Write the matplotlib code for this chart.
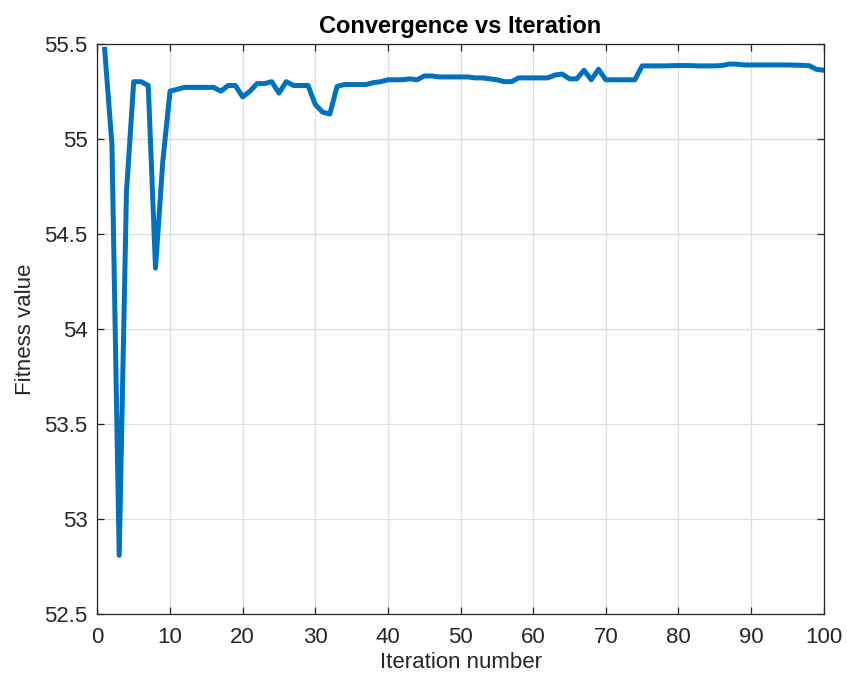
import matplotlib
matplotlib.use("Agg")
import matplotlib.pyplot as plt
import numpy as np

plt.rcParams['font.family'] = ['Liberation Sans', 'DejaVu Sans']

iterations = list(range(1, 101))
fitness = [
    55.47, 54.97, 52.81, 54.72, 55.30, 55.30, 55.28, 54.32, 54.88, 55.25,
    55.26, 55.27, 55.27, 55.27, 55.27, 55.27, 55.25, 55.28, 55.28, 55.22,
    55.25, 55.29, 55.29, 55.30, 55.24, 55.30, 55.28, 55.28, 55.28, 55.18,
    55.14, 55.13, 55.275, 55.285, 55.285, 55.285, 55.285, 55.295, 55.30, 55.31,
    55.31, 55.31, 55.315, 55.31, 55.33, 55.33, 55.325, 55.325, 55.325, 55.325,
    55.325, 55.32, 55.32, 55.315, 55.31, 55.30, 55.30, 55.32, 55.32, 55.32,
    55.32, 55.32, 55.335, 55.34, 55.315, 55.315, 55.36, 55.31, 55.365, 55.31,
    55.31, 55.31, 55.31, 55.31, 55.383, 55.383, 55.383, 55.383, 55.384, 55.385,
    55.385, 55.384, 55.383, 55.383, 55.383, 55.385, 55.393, 55.392, 55.388, 55.388,
    55.388, 55.388, 55.388, 55.388, 55.388, 55.387, 55.386, 55.384, 55.365, 55.36,
]
xticks = list(range(0, 101, 10))
yticks = [52.5, 53, 53.5, 54, 54.5, 55, 55.5]
yticklabels = ['52.5', '53', '53.5', '54', '54.5', '55', '55.5']

axcol = '#262626'
fig = plt.figure(figsize=(8.47, 6.82), dpi=100)
ax = fig.add_axes([0.115, 0.0993, 0.8575, 0.8367])
ax.plot(iterations, fitness, color='#0072BD', linewidth=3.6, solid_joinstyle='round')
ax.set_xlim(0, 100)
ax.set_ylim(52.5, 55.5)
ax.set_xticks(xticks)
ax.set_yticks(yticks)
ax.set_yticklabels(yticklabels)
ax.grid(True, color='#dedede', linewidth=0.9)
ax.set_axisbelow(True)
ax.tick_params(direction='in', length=5, width=0.9, colors=axcol, labelsize=16,
               top=True, right=True)
ax.tick_params(axis='x', pad=9)
ax.tick_params(axis='y', pad=7)
for s in ax.spines.values():
    s.set_color(axcol)
    s.set_linewidth(0.9)
ax.set_xlabel('Iteration number', fontsize=16, color=axcol, labelpad=3)
ax.set_ylabel('Fitness value', fontsize=16, color=axcol, labelpad=6)
ax.set_title('Convergence vs Iteration', fontsize=17, fontweight='bold', color='black', pad=8)
fig.savefig('out.png', dpi=100)
